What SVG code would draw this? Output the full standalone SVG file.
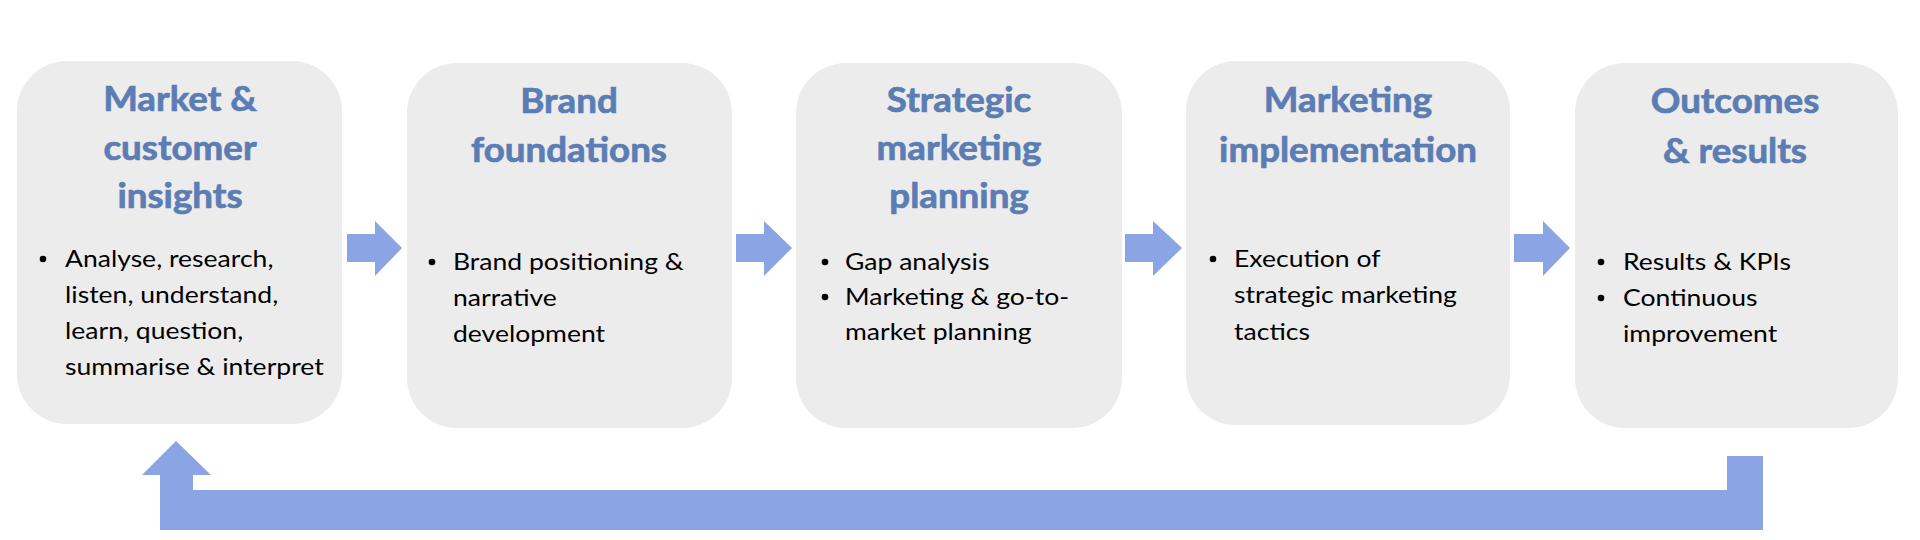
<svg xmlns="http://www.w3.org/2000/svg" width="1920" height="540" viewBox="0 0 1920 540">
<style>
.box{fill:#ececec;}
.title{font-family:Lato,"Noto Sans",sans-serif;font-weight:700;font-size:34px;fill:#5b7db4;stroke:#5b7db4;stroke-width:0.7;text-anchor:middle;}
.body{font-family:Lato,"Noto Sans",sans-serif;font-size:23.5px;fill:#000;}
.conn{fill:#8ba4e3;}
</style>
<rect width="1920" height="540" fill="#ffffff"/>
<g id="node1">
<rect class="box" x="17" y="61" width="325" height="363" rx="50"/>
<g transform="translate(180,0) scale(1.08,1)">
<text class="title" x="0" y="111">Market &amp;</text>
<text class="title" x="0" y="160">customer</text>
<text class="title" x="0" y="208">insights</text>
</g>
<circle cx="43" cy="259" r="3.3"/>
<g transform="translate(65,0) scale(1.13,1)">
<text class="body" x="0" y="267">Analyse, research,</text>
<text class="body" x="0" y="303">listen, understand,</text>
<text class="body" x="0" y="339">learn, question,</text>
<text class="body" x="0" y="375">summarise &amp; interpret</text>
</g>
</g>
<g id="node2">
<rect class="box" x="407" y="63" width="325" height="365" rx="50"/>
<g transform="translate(569,0) scale(1.08,1)">
<text class="title" x="0" y="113">Brand</text>
<text class="title" x="0" y="162">foundations</text>
</g>
<circle cx="432" cy="262" r="3.3"/>
<g transform="translate(453,0) scale(1.13,1)">
<text class="body" x="0" y="270">Brand positioning &amp;</text>
<text class="body" x="0" y="306">narrative</text>
<text class="body" x="0" y="342">development</text>
</g>
</g>
<g id="node3">
<rect class="box" x="796" y="63" width="326" height="365" rx="50"/>
<g transform="translate(959,0) scale(1.08,1)">
<text class="title" x="0" y="112">Strategic</text>
<text class="title" x="0" y="160">marketing</text>
<text class="title" x="0" y="208">planning</text>
</g>
<circle cx="825" cy="262" r="3.3"/>
<circle cx="825" cy="297" r="3.3"/>
<g transform="translate(845,0) scale(1.13,1)">
<text class="body" x="0" y="270">Gap analysis</text>
<text class="body" x="0" y="305">Marketing &amp; go-to-</text>
<text class="body" x="0" y="340">market planning</text>
</g>
</g>
<g id="node4">
<rect class="box" x="1186" y="61" width="324" height="364" rx="50"/>
<g transform="translate(1348,0) scale(1.08,1)">
<text class="title" x="0" y="112">Marketing</text>
<text class="title" x="0" y="162">implementation</text>
</g>
<circle cx="1213" cy="259" r="3.3"/>
<g transform="translate(1234,0) scale(1.13,1)">
<text class="body" x="0" y="267">Execution of</text>
<text class="body" x="0" y="303">strategic marketing</text>
<text class="body" x="0" y="340">tactics</text>
</g>
</g>
<g id="node5">
<rect class="box" x="1575" y="63" width="323" height="365" rx="50"/>
<g transform="translate(1735,0) scale(1.08,1)">
<text class="title" x="0" y="113">Outcomes</text>
<text class="title" x="0" y="163">&amp; results</text>
</g>
<circle cx="1601" cy="262" r="3.3"/>
<circle cx="1601" cy="298" r="3.3"/>
<g transform="translate(1623,0) scale(1.13,1)">
<text class="body" x="0" y="270">Results &amp; KPIs</text>
<text class="body" x="0" y="306">Continuous</text>
<text class="body" x="0" y="342">improvement</text>
</g>
</g>
<g id="connectors">
<polygon class="conn" points="347,234 375,234 375,221 402,248 375,276 375,262 347,262"/>
<polygon class="conn" points="736,234 764,234 764,221 792,248 764,276 764,262 736,262"/>
<polygon class="conn" points="1125,234 1153,234 1153,221 1182,248 1153,276 1153,262 1125,262"/>
<polygon class="conn" points="1514,234 1543,234 1543,221 1570,248 1543,276 1543,262 1514,262"/>
<polygon class="conn" points="1763,456 1763,530 160,530 160,475 142,475 176,441 211,475 193,475 193,490 1727,490 1727,456"/>
</g>
</svg>
